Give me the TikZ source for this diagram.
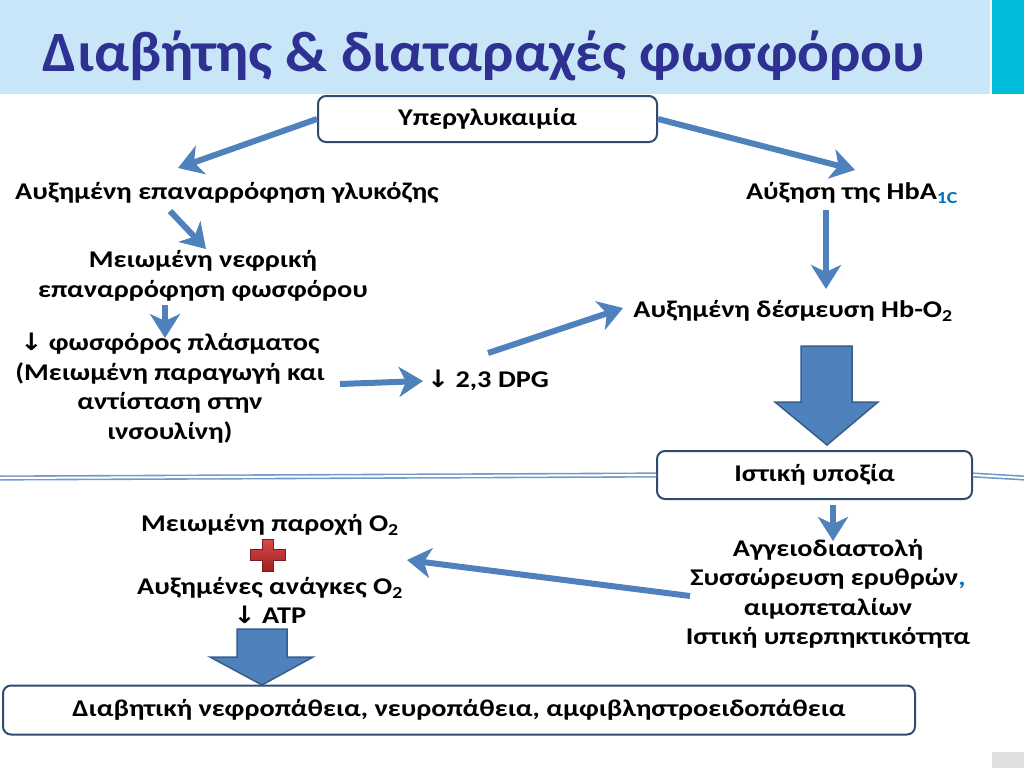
\documentclass[tikz,border=0pt]{standalone}
\usepackage{fontspec}
\setmainfont{Carlito}[FakeStretch=1.18]
\newfontfamily\titlefont{Carlito}[FakeStretch=1.04]
\newfontfamily\symfont{DejaVu Sans}[FakeStretch=1.1]
\usetikzlibrary{arrows.meta}
\definecolor{flowblue}{HTML}{4F81BD}
\definecolor{flowedge}{HTML}{385D8A}
\definecolor{boxedge}{HTML}{2F4B70}
\definecolor{titleblue}{HTML}{2E3192}
\definecolor{headblue}{HTML}{C8E6F8}
\definecolor{tealbar}{HTML}{00BCD9}
\definecolor{subblue}{HTML}{0070C0}
\definecolor{rulegray}{HTML}{E0E0E0}
\definecolor{crossred}{HTML}{D42A2A}

\tikzstyle{txt} = [align=center,inner sep=0pt,font=\bfseries\fontsize{24}{29.5}\selectfont]
\tikzstyle{box} = [txt,draw=boxedge,line width=2pt,rounded corners=8pt,fill=white]
\tikzstyle{flow} = [draw=flowblue,line width=6pt,-{Stealth[length=24pt,width=30pt,inset=7pt]}]
\tikzstyle{bigarrow} = [fill=flowblue,draw=flowedge,line width=1.5pt,line join=miter]
\tikzstyle{rule} = [draw=flowblue!80,double=white,double distance=2pt,line width=1.6pt]
\newcommand{\dn}{{\symfont\bfseries ↓}}

\begin{document}
\begin{tikzpicture}[x=1pt,y=-1pt]
		\useasboundingbox (0,0) rectangle (1024,768);
		\fill[headblue] (0,0) rectangle (990,94);
		\fill[tealbar] (992,0) rectangle (1024,94);
		\fill[rulegray] (992,752) rectangle (1024,768);
		\node[txt,text=titleblue,font=\titlefont\bfseries\fontsize{57}{60}\selectfont] (title) at (484,56) {Διαβήτης \& διαταραχές φωσφόρου};

		\node[box,minimum width=339pt,minimum height=46pt] (hyper) at (487.5,119) {Υπεργλυκαιμία};
		\node[txt] (gluc) at (227,193) {Αυξημένη επαναρρόφηση γλυκόζης};
		\node[txt] (hba) at (852,193) {Αύξηση της HbA\textsubscript{\textcolor{subblue}{1C}}};
		\node[txt] (renal) at (203,276) {Μειωμένη νεφρική\\επαναρρόφηση φωσφόρου};
		\node[txt] (plasma) at (170,388) {\dn{} φωσφόρος πλάσματος\\(Μειωμένη παραγωγή και\\αντίσταση στην\\ινσουλίνη)};
		\node[txt] (dpg) at (488,380) {\dn{} 2,3 DPG};
		\node[txt] (hbo) at (793,311) {Αυξημένη δέσμευση Hb-O\textsubscript{2}};
		\node[box,minimum width=315pt,minimum height=48pt] (hypoxia) at (814.5,475) {Ιστική υποξία};
		\node[txt] (resp) at (828,594) {Αγγειοδιαστολή\\Συσσώρευση ερυθρών\textcolor{subblue}{,}\\αιμοπεταλίων\\Ιστική υπερπηκτικότητα};
		\node[txt] (supply) at (270,525) {Μειωμένη παροχή O\textsubscript{2}};
		\node[txt] (needs) at (270,588) {Αυξημένες ανάγκες O\textsubscript{2}};
		\node[txt] (atp) at (270,615) {\dn{} ATP};
		\node[box,minimum width=912pt,minimum height=49pt] (nephro) at (459,710) {Διαβητική νεφροπάθεια, νευροπάθεια, αμφιβληστροειδοπάθεια};
		\coordinate (plus) at (268,555);

		\coordinate (t1) at (178,168);
		\coordinate (t2) at (855,170);
		\coordinate (s3) at (170,211);
		\coordinate (t3) at (206,249);
		\coordinate (s4) at (165,305);
		\coordinate (t4) at (165,338);
		\coordinate (s5) at (340,384);
		\coordinate (t5) at (423,381);
		\coordinate (s6) at (488,353);
		\coordinate (t6) at (623,308);
		\coordinate (s7) at (826,210);
		\coordinate (t7) at (826,289);
		\coordinate (s8) at (833,505);
		\coordinate (t8) at (833,541);
		\coordinate (s9) at (690,596);
		\coordinate (t9) at (407,560);

		\draw[flow] (hyper.west) -- (t1);
		\draw[flow] (hyper.east) -- (t2);
		\draw[flow] (s3) -- (t3);
		\draw[flow] (s4) -- (t4);
		\draw[flow] (s5) -- (t5);
		\draw[flow] (s6) -- (t6);
		\draw[flow] (s7) -- (t7);
		\draw[flow] (s8) -- (t8);
		\draw[flow] (s9) -- (t9);

		\draw[bigarrow] (801,346) -- (852,346) -- (852,402) -- (878,402) -- (827,445) -- (775,402) -- (801,402) -- cycle;
		\draw[bigarrow] (237,629) -- (287,629) -- (287,657) -- (313,657) -- (262,685) -- (210,657) -- (237,657) -- cycle;

		\draw[rule] (0,478) -- (hypoxia.west);
		\draw[rule] (hypoxia.east) -- (1024,478);

		\draw[draw=crossred!60!black,line width=0.8pt,top color=crossred!85!white,bottom color=crossred!75!black]
			([shift={(-5.5,-16)}]plus) -- ++(11,0) -- ++(0,10.5) -- ++(12,0) -- ++(0,11) -- ++(-12,0) -- ++(0,10.5) -- ++(-11,0) -- ++(0,-10.5) -- ++(-12,0) -- ++(0,-11) -- ++(12,0) -- cycle;
		\end{tikzpicture}
\end{document}
